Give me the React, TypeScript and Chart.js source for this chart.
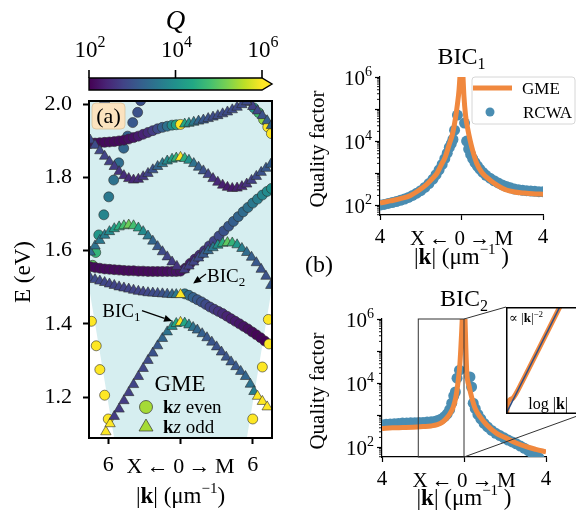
import React, { useEffect, useRef } from "react";
import { Chart, registerables } from "chart.js";

Chart.register(...registerables);

const SERIF = '"Liberation Serif", "Times New Roman", "DejaVu Serif", serif';

/* ---------------- Panel (a) data ----------------
   each entry: [k (µm⁻¹, <0 toward X, >0 toward M), E (eV), log10 Q] */
const evenTopLeft = [
  [-7.5, 1.893, 2.2], [-7.1, 1.894, 2.15], [-6.7, 1.895, 2.1], [-6.3, 1.896, 2.1], [-5.9, 1.897, 2.1],
  [-5.5, 1.898, 2.1], [-5.1, 1.9, 2.1], [-4.7, 1.902, 2.1], [-4.3, 1.905, 2.15], [-3.9, 1.909, 2.2],
  [-3.5, 1.913, 2.3], [-3.1, 1.918, 2.4], [-2.7, 1.923, 2.5], [-2.3, 1.928, 2.7], [-1.9, 1.933, 2.9],
  [-1.5, 1.937, 3.2], [-1.1, 1.94, 3.5], [-0.7, 1.943, 3.9], [-0.35, 1.944, 4.3], [0, 1.945, 7],
];
const evenFlatRising = [
  [-7.5, 1.556, 2.1], [-7.1, 1.554, 2.1], [-6.7, 1.552, 2.1], [-6.3, 1.55, 2.1], [-5.9, 1.549, 2.1],
  [-5.5, 1.548, 2.1], [-5.1, 1.547, 2.1], [-4.7, 1.546, 2.1], [-4.3, 1.545, 2.1], [-3.9, 1.545, 2.1],
  [-3.5, 1.544, 2.1], [-3.1, 1.544, 2.1], [-2.7, 1.543, 2.1], [-2.3, 1.543, 2.1], [-1.9, 1.543, 2.1],
  [-1.5, 1.543, 2.15], [-1.1, 1.543, 2.15], [-0.7, 1.543, 2.2], [-0.35, 1.543, 2.2], [0, 1.544, 2.2],
  [0.4, 1.552, 2.25], [0.8, 1.565, 2.3], [1.2, 1.577, 2.4], [1.6, 1.588, 2.5], [2.0, 1.6, 2.6],
  [2.4, 1.613, 2.7], [2.8, 1.626, 2.8], [3.2, 1.64, 2.9], [3.6, 1.654, 3.0], [4.0, 1.667, 3.1],
  [4.4, 1.68, 3.2], [4.8, 1.693, 3.3], [5.2, 1.706, 3.4], [5.6, 1.718, 3.5], [6.0, 1.73, 3.6],
  [6.4, 1.741, 3.7], [6.8, 1.752, 3.8], [7.2, 1.762, 3.9], [7.55, 1.77, 4.0],
];
const evenBic2Right = [
  [0.35, 1.482, 3.6], [0.7, 1.478, 3.4], [1.05, 1.472, 3.25], [1.4, 1.466, 3.1], [1.75, 1.46, 3.0],
  [2.1, 1.453, 2.9], [2.45, 1.446, 2.8], [2.8, 1.44, 2.7], [3.15, 1.434, 2.6], [3.5, 1.428, 2.5],
  [3.85, 1.421, 2.4], [4.2, 1.414, 2.35], [4.55, 1.407, 2.3], [4.9, 1.4, 2.25], [5.25, 1.393, 2.2],
  [5.6, 1.386, 2.15], [5.95, 1.378, 2.1], [6.3, 1.37, 2.05], [6.65, 1.362, 2.05], [7.0, 1.353, 2.0],
  [7.35, 1.345, 7],
];
const evenUpperLeft = [
  [-6.3, 2.003, 3.1], [-3.31, 2.01, 3.0], [-3.56, 1.978, 3.0], [-3.97, 1.95, 3.1], [-4.39, 1.913, 3.2],
  [-4.72, 1.88, 3.3], [-5.13, 1.84, 3.4], [-5.55, 1.793, 3.5], [-5.96, 1.747, 3.6], [-6.37, 1.698, 3.8],
  [-6.79, 1.643, 4.1], [-7.04, 1.595, 4.6], [-7.3, 1.56, 5.0],
];
const evenTopRight = [
  [6.1, 1.99, 4.0], [6.5, 1.977, 4.7], [6.9, 1.958, 5.3], [7.25, 1.938, 7], [7.55, 1.92, 7],
];
const evenGuided = [
  [-7.4, 1.407, 7], [-7.0, 1.34, 7], [-6.7, 1.275, 7], [-6.3, 1.205, 7], [-6.0, 1.14, 7],
  [7.3, 1.412, 7], [6.8, 1.282, 7], [6.0, 1.14, 7],
];
const oddBic1Band = [
  [-6.2, 1.105, 7], [-5.85, 1.127, 7], [-5.5, 1.147, 2.7], [-5.1, 1.167, 2.7], [-4.7, 1.19, 2.7],
  [-4.3, 1.212, 2.75], [-3.9, 1.234, 2.8], [-3.5, 1.256, 2.8], [-3.1, 1.278, 2.85], [-2.7, 1.3, 2.9],
  [-2.3, 1.32, 3.0], [-1.9, 1.34, 3.1], [-1.5, 1.36, 3.3], [-1.1, 1.378, 3.5], [-0.7, 1.393, 3.9],
  [-0.35, 1.401, 4.4], [0, 1.404, 7], [0.35, 1.402, 4.4], [0.7, 1.397, 3.9], [1.05, 1.39, 3.5],
  [1.4, 1.383, 3.3], [1.8, 1.373, 3.2], [2.2, 1.362, 3.1], [2.6, 1.35, 3.05], [3.0, 1.337, 3.0],
  [3.4, 1.323, 3.0], [3.8, 1.309, 3.05], [4.2, 1.296, 3.1], [4.6, 1.283, 3.1], [5.0, 1.27, 3.2],
  [5.4, 1.256, 3.3], [5.8, 1.235, 3.5], [6.1, 1.215, 3.7], [6.4, 1.202, 7], [6.8, 1.188, 7],
  [7.2, 1.173, 7],
];
const oddBic2Left = [
  [-7.5, 1.525, 2.9], [-7.1, 1.521, 2.9], [-6.7, 1.517, 2.85], [-6.3, 1.513, 2.85], [-5.9, 1.509, 2.8],
  [-5.5, 1.505, 2.8], [-5.1, 1.501, 2.8], [-4.7, 1.498, 2.8], [-4.3, 1.495, 2.8], [-3.9, 1.492, 2.8],
  [-3.5, 1.489, 2.8], [-3.1, 1.487, 2.8], [-2.7, 1.485, 2.85], [-2.3, 1.484, 2.9], [-1.9, 1.483, 2.9],
  [-1.5, 1.482, 3.0], [-1.1, 1.481, 3.1], [-0.7, 1.48, 3.3], [-0.35, 1.48, 3.6], [0, 1.48, 7],
];
const oddHumpBand = [
  [-7.5, 1.596, 3.4], [-7.1, 1.613, 3.5], [-6.7, 1.628, 3.6], [-6.3, 1.642, 3.7], [-5.9, 1.652, 3.9],
  [-5.5, 1.66, 4.2], [-5.1, 1.665, 4.5], [-4.7, 1.668, 4.8], [-4.3, 1.67, 5.1], [-3.9, 1.668, 4.8],
  [-3.5, 1.662, 4.3], [-3.1, 1.652, 3.9], [-2.7, 1.64, 3.6], [-2.3, 1.626, 3.3], [-1.9, 1.611, 3.1],
  [-1.5, 1.597, 2.9], [-1.1, 1.583, 2.8], [-0.7, 1.569, 2.7], [-0.3, 1.557, 2.6],
  [0.3, 1.548, 2.7], [0.7, 1.558, 2.75], [1.1, 1.569, 2.8], [1.5, 1.58, 2.9], [1.9, 1.59, 3.1],
  [2.3, 1.6, 3.3], [2.7, 1.608, 3.6], [3.1, 1.615, 4.0], [3.5, 1.62, 4.5], [3.9, 1.622, 5.0],
  [4.3, 1.621, 4.6], [4.7, 1.616, 4.1], [5.1, 1.606, 3.7], [5.5, 1.595, 3.4], [5.9, 1.582, 3.2],
  [6.3, 1.567, 3.1], [6.7, 1.549, 3.0], [7.1, 1.53, 3.0], [7.5, 1.505, 3.1],
];
const oddWaveBand = [
  [-7.5, 1.902, 2.9], [-7.1, 1.888, 2.9], [-6.7, 1.873, 2.85], [-6.3, 1.858, 2.8], [-5.9, 1.843, 2.75],
  [-5.5, 1.83, 2.7], [-5.1, 1.816, 2.6], [-4.7, 1.805, 2.5], [-4.3, 1.797, 2.45], [-3.9, 1.793, 2.45],
  [-3.5, 1.795, 2.5], [-3.1, 1.802, 2.65], [-2.7, 1.811, 2.8], [-2.3, 1.821, 3.0], [-1.9, 1.83, 3.3],
  [-1.5, 1.838, 3.6], [-1.1, 1.845, 3.9], [-0.7, 1.85, 4.2], [-0.35, 1.853, 4.6], [0, 1.855, 7],
  [0.35, 1.852, 4.5], [0.7, 1.847, 4.0], [1.1, 1.838, 3.5], [1.5, 1.828, 3.2], [1.9, 1.818, 3.0],
  [2.3, 1.808, 2.8], [2.7, 1.797, 2.6], [3.1, 1.787, 2.45], [3.5, 1.779, 2.35], [3.9, 1.773, 2.3],
  [4.3, 1.77, 2.3], [4.7, 1.771, 2.35], [5.1, 1.775, 2.45], [5.5, 1.782, 2.6], [5.9, 1.792, 2.75],
  [6.3, 1.803, 2.9], [6.7, 1.814, 3.0], [7.1, 1.825, 3.1], [7.5, 1.836, 3.2],
];
const oddTopRising = [
  [0.35, 1.946, 4.4], [0.7, 1.948, 4.0], [1.1, 1.951, 3.6], [1.5, 1.954, 3.3], [1.9, 1.957, 3.1],
  [2.3, 1.961, 3.0], [2.7, 1.965, 2.9], [3.1, 1.969, 2.9], [3.5, 1.974, 2.9], [3.9, 1.979, 2.9],
  [4.3, 1.985, 2.9], [4.7, 1.992, 2.9], [5.1, 1.999, 2.9], [5.5, 2.007, 2.9],
];
const oddTopRight = [
  [5.6, 2.005, 2.7], [6.0, 1.994, 2.75], [6.4, 1.982, 2.85], [6.8, 1.969, 3.0], [7.2, 1.955, 3.2],
  [7.55, 1.942, 3.3],
];
const lightLineK = [-7.6, 0, 7.6];
const lightLineE = [1.5, 0, 1.5];

const aKTicks = [-6, 0, 6];
const aKTickLabels = ["6", "", "6"];
const aETicks = [1.2, 1.4, 1.6, 1.8, 2.0];
const qBarTicks = [2, 4, 6];

/* ---------------- Panel (b) data: [k (µm⁻¹), log10 Q] ---------------- */
const bic1Gme = [
  [-4, 2.06], [-3.5, 2.13], [-3, 2.2], [-2.5, 2.3], [-2, 2.5], [-1.7, 2.65], [-1.4, 2.85], [-1.2, 3.0],
  [-1.0, 3.25], [-0.8, 3.5], [-0.6, 3.9], [-0.45, 4.2], [-0.3, 4.7], [-0.2, 5.15], [-0.12, 5.6],
  [-0.06, 6.2], [0, 7.0], [0.06, 6.2], [0.12, 5.4], [0.2, 4.8], [0.3, 4.4], [0.42, 4.03], [0.55, 3.7],
  [0.75, 3.3], [1.0, 3.02], [1.4, 2.78], [1.8, 2.6], [2.2, 2.47], [2.6, 2.41], [3.0, 2.38], [3.5, 2.35],
  [4.0, 2.34],
];
const bic1Rcwa = [
  [-4.0, 2.0], [-3.8, 2.02], [-3.6, 2.05], [-3.4, 2.08], [-3.2, 2.11], [-3.0, 2.15], [-2.8, 2.19],
  [-2.6, 2.24], [-2.4, 2.3], [-2.2, 2.37], [-2.0, 2.45], [-1.8, 2.55], [-1.6, 2.67], [-1.4, 2.81],
  [-1.25, 2.95], [-1.1, 3.1], [-0.95, 3.27], [-0.82, 3.45], [-0.7, 3.62], [-0.6, 3.8], [-0.5, 3.92],
  [-0.42, 4.05], [-0.34, 4.34], [-0.2, 4.81], [0.15, 4.56], [0.25, 4.0], [0.35, 3.75], [0.45, 3.58],
  [0.55, 3.45], [0.66, 3.33], [0.78, 3.22], [0.9, 3.12], [1.05, 3.02], [1.2, 2.93], [1.4, 2.84],
  [1.6, 2.76], [1.8, 2.69], [2.0, 2.63], [2.2, 2.58], [2.4, 2.54], [2.6, 2.5], [2.8, 2.48], [3.0, 2.46],
  [3.2, 2.45], [3.4, 2.44], [3.6, 2.43], [3.8, 2.42], [4.0, 2.42],
];
const bic2Gme = [
  [-4, 2.58], [-3.5, 2.6], [-3, 2.61], [-2.5, 2.62], [-2, 2.64], [-1.6, 2.66], [-1.3, 2.7], [-1.05, 2.78],
  [-0.85, 2.9], [-0.68, 3.05], [-0.52, 3.26], [-0.4, 3.55], [-0.28, 4.09], [-0.2, 4.6], [-0.11, 5.65],
  [-0.05, 6.5], [0, 7.2], [0.05, 6.0], [0.13, 4.4], [0.25, 3.9], [0.37, 3.57], [0.55, 3.2], [0.78, 2.95],
  [1.1, 2.7], [1.59, 2.43], [2.0, 2.3], [2.57, 2.12], [3.0, 2.02], [3.5, 1.93], [4.0, 1.85],
];
const bic2Rcwa = [
  [-4, 2.7], [-3.8, 2.71], [-3.6, 2.72], [-3.4, 2.73], [-3.2, 2.74], [-3.0, 2.75], [-2.8, 2.75],
  [-2.6, 2.76], [-2.4, 2.76], [-2.2, 2.77], [-2.0, 2.77], [-1.8, 2.78], [-1.6, 2.79], [-1.4, 2.81],
  [-1.25, 2.84], [-1.1, 2.88], [-0.95, 2.95], [-0.82, 3.04], [-0.7, 3.17], [-0.6, 3.37], [-0.5, 3.6],
  [-0.42, 3.72], [-0.34, 4.15], [-0.22, 4.4], [0.29, 4.19], [0.37, 3.88], [0.45, 3.37], [0.55, 3.2],
  [0.68, 3.02], [0.82, 2.88], [0.98, 2.74], [1.15, 2.63], [1.35, 2.52], [1.55, 2.43], [1.75, 2.36],
  [1.95, 2.29], [2.15, 2.22], [2.35, 2.16], [2.55, 2.1], [2.75, 2.03], [2.95, 1.96], [3.15, 1.88],
  [3.35, 1.79], [3.5, 1.73], [3.65, 1.67],
];
const bic2ZoomK = [-2.23, 0];
/* inset: [log10 |k|, log10 Q] */
const insetGuide = [[0.1, 2.8], [-2.6, 8.2]];
const insetGme = [
  [0.04, 2.85], [-0.02, 3.3], [-0.1, 3.42], [-0.2, 3.47], [-0.3, 3.62], [-0.5, 4.0], [-0.8, 4.6],
  [-1.2, 5.4], [-1.6, 6.2], [-2.0, 7.0], [-2.6, 8.2],
];
const bKTicks = [-4, 0, 4];
const bKTickLabels = ["4", "", "4"];
const bLogQTicks = [2, 3, 4, 5, 6];
const bLogQLabels = [2, 4, 6];

/* ---------------- styling helpers ---------------- */
const VIRIDIS = ["#440154", "#482475", "#414487", "#355f8d", "#2a788e", "#21918c", "#22a884", "#44bf70", "#7ad151", "#bddf26", "#fde725"];
const ORANGE = "#f0883e";
const BLUE = "#4a8db2";

function hexRgb(h: string) {
  return [parseInt(h.slice(1, 3), 16), parseInt(h.slice(3, 5), 16), parseInt(h.slice(5, 7), 16)];
}
function qColor(lq: number) {
  if (lq >= 6) return VIRIDIS[10];
  const t = Math.max(0, (lq - 2) / 4) * 10;
  const i = Math.min(9, Math.floor(t));
  const f = t - i;
  const a = hexRgb(VIRIDIS[i]);
  const b = hexRgb(VIRIDIS[i + 1]);
  return `rgb(${Math.round(a[0] + (b[0] - a[0]) * f)},${Math.round(a[1] + (b[1] - a[1]) * f)},${Math.round(a[2] + (b[2] - a[2]) * f)})`;
}

type Seg = { t: string; s: number; w?: string; dy?: number };
function fontOf(g: Seg) {
  return `${g.w ?? ""} ${g.s}px ${SERIF}`;
}
function richWidth(ctx: CanvasRenderingContext2D, segs: Seg[]) {
  let w = 0;
  for (const g of segs) {
    ctx.font = fontOf(g);
    w += ctx.measureText(g.t).width;
  }
  return w;
}
function drawRich(ctx: CanvasRenderingContext2D, segs: Seg[], x: number, y: number, align = "center") {
  const w = richWidth(ctx, segs);
  let cx = align === "center" ? x - w / 2 : align === "right" ? x - w : x;
  ctx.textAlign = "left";
  ctx.textBaseline = "alphabetic";
  ctx.fillStyle = "#000";
  for (const g of segs) {
    ctx.font = fontOf(g);
    ctx.fillText(g.t, cx, y + (g.dy ?? 0));
    cx += ctx.measureText(g.t).width;
  }
}
function drawRotated(ctx: CanvasRenderingContext2D, segs: Seg[], x: number, y: number) {
  ctx.save();
  ctx.translate(x, y);
  ctx.rotate(-Math.PI / 2);
  drawRich(ctx, segs, 0, 0, "center");
  ctx.restore();
}
function arrow(ctx: CanvasRenderingContext2D, x1: number, y1: number, x2: number, y2: number) {
  const a = Math.atan2(y2 - y1, x2 - x1);
  const hl = 8, hw = 3.5;
  const c = Math.cos(a), s = Math.sin(a);
  ctx.strokeStyle = "#000";
  ctx.lineWidth = 1.2;
  ctx.beginPath();
  ctx.moveTo(x1, y1);
  ctx.lineTo(x2 - hl * c, y2 - hl * s);
  ctx.stroke();
  ctx.fillStyle = "#000";
  ctx.beginPath();
  ctx.moveTo(x2, y2);
  ctx.lineTo(x2 - hl * c + hw * s, y2 - hl * s - hw * c);
  ctx.lineTo(x2 - hl * c - hw * s, y2 - hl * s + hw * c);
  ctx.closePath();
  ctx.fill();
}
function rrect(ctx: CanvasRenderingContext2D, x: number, y: number, w: number, h: number, r: number) {
  ctx.beginPath();
  ctx.moveTo(x + r, y);
  ctx.lineTo(x + w - r, y);
  ctx.quadraticCurveTo(x + w, y, x + w, y + r);
  ctx.lineTo(x + w, y + h - r);
  ctx.quadraticCurveTo(x + w, y + h, x + w - r, y + h);
  ctx.lineTo(x + r, y + h);
  ctx.quadraticCurveTo(x, y + h, x, y + h - r);
  ctx.lineTo(x, y + r);
  ctx.quadraticCurveTo(x, y, x + r, y);
  ctx.closePath();
}
const kTitle = (sp: string): Seg[] => [
  { t: "|", s: 23 }, { t: "k", s: 23, w: "bold" }, { t: "| (μm", s: 23 }, { t: "−1", s: 15, dy: -10 }, { t: sp + ")", s: 23 },
];
const pathLabel = (s: number): Seg[] => [
  { t: "X", s }, { t: "\u2009", s }, { t: "←", s }, { t: "\u2009", s }, { t: "0", s },
  { t: "\u2009", s }, { t: "→", s }, { t: "\u2009", s }, { t: "M", s },
];

/* annotation anchors in data units of panel (a) */
const bic1Note = { text: [-6.5, 1.419], from: [-3.2, 1.436], to: [-0.7, 1.408] };
const bic2Note = { text: [2.2, 1.515], from: [2.12, 1.536], to: [1.05, 1.51] };

const panelAPlugin = {
  id: "panelA",
  afterDatasetsDraw(chart: any) {
    const { ctx, chartArea: ca, scales } = chart;
    const X = (v: number) => scales.x.getPixelForValue(v);
    const Y = (v: number) => scales.y.getPixelForValue(v);
    ctx.save();
    rrect(ctx, ca.left + 3, ca.top + 2, 33, 26, 4);
    ctx.fillStyle = "#fbe3bf";
    ctx.fill();
    ctx.strokeStyle = "#d9c39c";
    ctx.lineWidth = 0.8;
    ctx.stroke();
    drawRich(ctx, [{ t: "(a)", s: 22 }], ca.left + 19.5, ca.top + 22);
    drawRich(ctx, [{ t: "BIC", s: 19 }, { t: "1", s: 13, dy: 4 }], X(bic1Note.text[0]), Y(bic1Note.text[1]), "left");
    arrow(ctx, X(bic1Note.from[0]), Y(bic1Note.from[1]), X(bic1Note.to[0]), Y(bic1Note.to[1]));
    drawRich(ctx, [{ t: "BIC", s: 19 }, { t: "2", s: 13, dy: 4 }], X(bic2Note.text[0]), Y(bic2Note.text[1]), "left");
    arrow(ctx, X(bic2Note.from[0]), Y(bic2Note.from[1]), X(bic2Note.to[0]), Y(bic2Note.to[1]));
    const lx = ca.left + 57, ly = ca.top + 306;
    drawRich(ctx, [{ t: "GME", s: 23 }], ca.left + 91, ly - 16);
    ctx.fillStyle = "#a5db36";
    ctx.strokeStyle = "#333";
    ctx.lineWidth = 0.7;
    ctx.beginPath();
    ctx.arc(lx, ly, 6.5, 0, Math.PI * 2);
    ctx.fill();
    ctx.stroke();
    ctx.beginPath();
    ctx.moveTo(lx, ly + 12);
    ctx.lineTo(lx + 7, ly + 24);
    ctx.lineTo(lx - 7, ly + 24);
    ctx.closePath();
    ctx.fillStyle = "#a5db36";
    ctx.fill();
    ctx.stroke();
    drawRich(ctx, [{ t: "k", s: 19, w: "bold" }, { t: "z", s: 19, w: "italic" }, { t: " even", s: 19 }], lx + 17, ly + 6, "left");
    drawRich(ctx, [{ t: "k", s: 19, w: "bold" }, { t: "z", s: 19, w: "italic" }, { t: " odd", s: 19 }], lx + 17, ly + 26, "left");
    ctx.restore();
  },
  afterDraw(chart: any) {
    const { ctx, chartArea: ca, scales } = chart;
    ctx.save();
    ctx.strokeStyle = "#000";
    ctx.lineWidth = 2;
    ctx.strokeRect(ca.left, ca.top, ca.right - ca.left, ca.bottom - ca.top);
    const cbL = ca.left, cbR = ca.right - 10, tip = ca.right, cbT = 78, cbB = 90;
    const g = ctx.createLinearGradient(cbL, 0, cbR, 0);
    VIRIDIS.forEach((c, i) => g.addColorStop(i / (VIRIDIS.length - 1), c));
    ctx.fillStyle = g;
    ctx.fillRect(cbL, cbT, cbR - cbL, cbB - cbT);
    ctx.fillStyle = VIRIDIS[10];
    ctx.beginPath();
    ctx.moveTo(cbR, cbT);
    ctx.lineTo(tip, (cbT + cbB) / 2);
    ctx.lineTo(cbR, cbB);
    ctx.closePath();
    ctx.fill();
    ctx.beginPath();
    ctx.moveTo(cbL, cbT);
    ctx.lineTo(cbR, cbT);
    ctx.lineTo(tip, (cbT + cbB) / 2);
    ctx.lineTo(cbR, cbB);
    ctx.lineTo(cbL, cbB);
    ctx.closePath();
    ctx.lineWidth = 1.4;
    ctx.stroke();
    for (const v of qBarTicks) {
      const x = cbL + ((v - 2) / 4) * (cbR - cbL);
      ctx.beginPath();
      ctx.moveTo(x, cbT);
      ctx.lineTo(x, cbT - 8);
      ctx.lineWidth = 1.6;
      ctx.stroke();
      drawRich(ctx, [{ t: "10", s: 23 }, { t: String(v), s: 16, dy: -10 }], x + 1, 57);
    }
    drawRich(ctx, [{ t: "Q", s: 27, w: "italic" }], (cbL + cbR) / 2, 29);
    drawRich(ctx, pathLabel(22), scales.x.getPixelForValue(0), ca.bottom + 35);
    drawRotated(ctx, [{ t: "E (eV)", s: 23 }], 30, 272);
    drawRich(ctx, kTitle(""), (ca.left + ca.right) / 2, 503);
    ctx.restore();
  },
};

function qPanelPlugin(p: any) {
  return {
    id: "qpanel" + p.sub,
    afterDatasetsDraw(chart: any) {
      if (!p.zoom) return;
      const { ctx, chartArea: ca, scales } = chart;
      const xl = scales.x.getPixelForValue(bic2ZoomK[0]);
      const xr = scales.x.getPixelForValue(bic2ZoomK[1]);
      ctx.save();
      ctx.strokeStyle = "#333";
      ctx.lineWidth = 1;
      ctx.strokeRect(xl, ca.top, xr - xl, ca.bottom - ca.top);
      ctx.beginPath();
      ctx.moveTo(xr, ca.top);
      ctx.lineTo(p.zoom.tl[0], p.zoom.tl[1]);
      ctx.moveTo(xr, ca.bottom);
      ctx.lineTo(p.zoom.br[0], p.zoom.br[1]);
      ctx.stroke();
      ctx.restore();
    },
    afterDraw(chart: any) {
      const { ctx, chartArea: ca, scales } = chart;
      ctx.save();
      ctx.strokeStyle = "#000";
      ctx.lineWidth = 0.9;
      for (let n = 1; n < 6; n++) {
        for (let m = 2; m <= 9; m++) {
          const v = n + Math.log10(m);
          if (v < scales.y.min || v > scales.y.max) continue;
          const y = scales.y.getPixelForValue(v);
          ctx.beginPath();
          ctx.moveTo(ca.left, y);
          ctx.lineTo(ca.left - 3, y);
          ctx.stroke();
        }
      }
      for (const v of bLogQLabels) {
        const y = scales.y.getPixelForValue(v);
        drawRich(ctx, [{ t: "10", s: 21 }, { t: String(v), s: 14, dy: -9 }], ca.left - 8, y + 8, "right");
      }
      drawRich(ctx, pathLabel(21), scales.x.getPixelForValue(0), ca.bottom + 30);
      drawRich(ctx, [{ t: "BIC", s: 24 }, { t: p.sub, s: 16, dy: 5 }], (ca.left + ca.right) / 2, p.titleY);
      drawRotated(ctx, [{ t: "Quality factor", s: 21 }], 34, (ca.top + ca.bottom) / 2 + 3);
      drawRich(ctx, kTitle(" "), (ca.left + ca.right) / 2, p.kTitleY);
      if (p.legend) {
        rrect(ctx, 182, 77, 103, 47, 3);
        ctx.fillStyle = "rgba(255,255,255,0.85)";
        ctx.fill();
        ctx.strokeStyle = "#d6d6d6";
        ctx.lineWidth = 1;
        ctx.stroke();
        ctx.strokeStyle = ORANGE;
        ctx.lineWidth = 5;
        ctx.beginPath();
        ctx.moveTo(183, 88);
        ctx.lineTo(222, 88);
        ctx.stroke();
        ctx.fillStyle = BLUE;
        ctx.beginPath();
        ctx.arc(200, 112, 4.5, 0, Math.PI * 2);
        ctx.fill();
        drawRich(ctx, [{ t: "GME", s: 17 }], 232, 94, "left");
        drawRich(ctx, [{ t: "RCWA", s: 17 }], 233, 118, "left");
      }
      if (p.panelLabel) drawRich(ctx, [{ t: "(b)", s: 24 }], 29, 272);
      ctx.restore();
    },
  };
}

const insetPlugin = {
  id: "inset",
  beforeDraw(chart: any) {
    const { ctx, width, height } = chart;
    ctx.save();
    ctx.fillStyle = "#fff";
    ctx.fillRect(0, 0, width, height);
    ctx.restore();
  },
  afterDraw(chart: any) {
    const { ctx, width, height } = chart;
    ctx.save();
    ctx.strokeStyle = "#000";
    ctx.lineWidth = 1.5;
    ctx.strokeRect(0.75, 0.75, width - 1.5, height - 1.5);
    drawRich(ctx, [{ t: "∝ |", s: 13 }, { t: "k", s: 13, w: "bold" }, { t: "|", s: 13 }, { t: "−2", s: 9, dy: -5 }], 3, 15, "left");
    drawRich(ctx, [{ t: "log |", s: 16 }, { t: "k", s: 16, w: "bold" }, { t: "|", s: 16 }], 62, 102, "right");
    ctx.restore();
  },
};

function tickFont(size: number) {
  return { family: SERIF, size };
}

function makePanelA(canvas: HTMLCanvasElement) {
  const L = 89, T = 101, R = 272, B = 438, W = 290, H = 517;
  const ds = (band: number[][], style: string, order: number) => ({
    type: "scatter",
    data: band.map((p) => ({ x: p[0], y: p[1] })),
    pointStyle: style,
    pointRadius: style === "circle" ? 5 : 6,
    pointHoverRadius: style === "circle" ? 5 : 6,
    pointBackgroundColor: band.map((p) => qColor(p[2])),
    pointBorderColor: "#2e2e2e",
    pointBorderWidth: 0.6,
    showLine: false,
    clip: 0,
    order,
  });
  const cone = {
    type: "line",
    data: lightLineK.map((k, i) => ({ x: k, y: lightLineE[i] })),
    fill: "end",
    backgroundColor: "rgb(214,238,240)",
    borderColor: "rgba(0,0,0,0)",
    borderWidth: 0,
    pointRadius: 0,
    tension: 0,
    clip: 0,
    order: 20,
  };
  return new Chart(canvas, {
    type: "scatter",
    data: {
      datasets: [
        cone,
        ds(evenTopLeft, "circle", 3),
        ds(evenFlatRising, "circle", 3),
        ds(evenBic2Right, "circle", 3),
        ds(evenUpperLeft, "circle", 3),
        ds(evenTopRight, "circle", 3),
        ds(evenGuided, "circle", 3),
        ds(oddBic1Band, "triangle", 1),
        ds(oddBic2Left, "triangle", 1),
        ds(oddHumpBand, "triangle", 1),
        ds(oddWaveBand, "triangle", 1),
        ds(oddTopRising, "triangle", 1),
        ds(oddTopRight, "triangle", 1),
      ] as any,
    },
    options: {
      responsive: false,
      animation: false,
      devicePixelRatio: 1,
      events: [],
      layout: { padding: { left: 0, top: T, right: W - R, bottom: 0 } },
      plugins: { legend: { display: false }, tooltip: { enabled: false } },
      scales: {
        x: {
          type: "linear",
          min: -7.6,
          max: 7.6,
          afterBuildTicks: (s: any) => { s.ticks = aKTicks.map((v) => ({ value: v })); },
          afterFit: (s: any) => { s.height = H - B; },
          ticks: { callback: (_v: any, i: number) => aKTickLabels[i], font: tickFont(22), color: "#000", padding: 8, maxRotation: 0, minRotation: 0, autoSkip: false },
          grid: { drawOnChartArea: false, tickLength: 6, tickWidth: 2, tickColor: "#000" },
          border: { display: true, color: "#000", width: 2 },
        },
        y: {
          type: "linear",
          min: 1.088,
          max: 2.009,
          afterBuildTicks: (s: any) => { s.ticks = aETicks.map((v) => ({ value: v })); },
          afterFit: (s: any) => { s.width = L; },
          ticks: { callback: (v: any) => Number(v).toFixed(1), font: tickFont(22), color: "#000", padding: 11, autoSkip: false },
          grid: { drawOnChartArea: false, tickLength: 6, tickWidth: 2, tickColor: "#000" },
          border: { display: true, color: "#000", width: 2 },
        },
      },
    } as any,
    plugins: [panelAPlugin as any],
  });
}

function makeQPanel(canvas: HTMLCanvasElement, cfg: any) {
  const { L, T, R, B, W, H } = cfg;
  return new Chart(canvas, {
    type: "scatter",
    data: {
      datasets: [
        {
          type: "line",
          data: cfg.gme.map((p: number[]) => ({ x: p[0], y: p[1] })),
          borderColor: ORANGE,
          borderWidth: 5,
          pointRadius: 0,
          cubicInterpolationMode: "monotone",
          fill: false,
          clip: 0,
          order: 0,
        },
        {
          type: "scatter",
          data: cfg.rcwa.map((p: number[]) => ({ x: p[0], y: p[1] })),
          pointRadius: 5.5,
          pointHoverRadius: 5.5,
          pointBackgroundColor: BLUE,
          pointBorderWidth: 0,
          showLine: false,
          clip: 0,
          order: 1,
        },
      ] as any,
    },
    options: {
      responsive: false,
      animation: false,
      devicePixelRatio: 1,
      events: [],
      layout: { padding: { left: 0, top: T, right: W - R, bottom: 0 } },
      plugins: { legend: { display: false }, tooltip: { enabled: false } },
      scales: {
        x: {
          type: "linear",
          min: -4,
          max: 4,
          afterBuildTicks: (s: any) => { s.ticks = bKTicks.map((v) => ({ value: v })); },
          afterFit: (s: any) => { s.height = H - B; },
          ticks: { callback: (_v: any, i: number) => bKTickLabels[i], font: tickFont(21), color: "#000", padding: 5, maxRotation: 0, minRotation: 0, autoSkip: false },
          grid: { drawOnChartArea: false, tickLength: 5, tickWidth: 1.2, tickColor: "#000" },
          border: { display: true, color: "#000", width: 1.2 },
        },
        y: {
          type: "linear",
          min: 1.69,
          max: 6,
          afterBuildTicks: (s: any) => { s.ticks = bLogQTicks.map((v) => ({ value: v })); },
          afterFit: (s: any) => { s.width = L; },
          ticks: { callback: () => "", font: tickFont(21), autoSkip: false },
          grid: { drawOnChartArea: false, tickLength: 5, tickWidth: 1.2, tickColor: "#000" },
          border: { display: true, color: "#000", width: 1.2 },
        },
      },
    } as any,
    plugins: [qPanelPlugin(cfg.plugin) as any],
  });
}

function makeInset(canvas: HTMLCanvasElement) {
  return new Chart(canvas, {
    type: "scatter",
    data: {
      datasets: [
        {
          type: "line",
          data: insetGuide.map((p) => ({ x: p[0], y: p[1] })),
          borderColor: "#2f4f86",
          borderWidth: 1.5,
          pointRadius: 0,
          fill: false,
          clip: 0,
          order: 0,
        },
        {
          type: "line",
          data: insetGme.map((p) => ({ x: p[0], y: p[1] })),
          borderColor: ORANGE,
          borderWidth: 5,
          pointRadius: 0,
          cubicInterpolationMode: "monotone",
          fill: false,
          clip: 0,
          order: 1,
        },
      ] as any,
    },
    options: {
      responsive: false,
      animation: false,
      devicePixelRatio: 1,
      events: [],
      layout: { padding: 0 },
      plugins: { legend: { display: false }, tooltip: { enabled: false } },
      scales: {
        x: { type: "linear", min: -2.6, max: 0.05, reverse: true, display: false },
        y: { type: "linear", min: 2.9, max: 6.75, display: false },
      },
    } as any,
    plugins: [insetPlugin as any],
  });
}

export default function App() {
  const aRef = useRef<HTMLCanvasElement>(null);
  const bRef = useRef<HTMLCanvasElement>(null);
  const cRef = useRef<HTMLCanvasElement>(null);
  const dRef = useRef<HTMLCanvasElement>(null);

  useEffect(() => {
    const charts = [
      makePanelA(aRef.current!),
      makeQPanel(bRef.current!, {
        L: 90, T: 77, R: 253, B: 215, W: 286, H: 285,
        gme: bic1Gme, rcwa: bic1Rcwa,
        plugin: { sub: "1", titleY: 64, kTitleY: 264, legend: true, panelLabel: true },
      }),
      makeQPanel(cRef.current!, {
        L: 92, T: 39, R: 256, B: 177, W: 286, H: 237,
        gme: bic2Gme, rcwa: bic2Rcwa,
        plugin: { sub: "2", titleY: 26, kTitleY: 225, zoom: { tl: [216, 27], br: [290, 135] } },
      }),
      makeInset(dRef.current!),
    ];
    return () => charts.forEach((c) => c.destroy());
  }, []);

  const abs = (l: number, t: number, w: number, h: number) => ({ position: "absolute" as const, left: l, top: t, width: w, height: h });

  return (
    <div style={{ position: "fixed", left: 0, top: 0, width: 576, height: 517, overflow: "hidden", background: "#fff" }}>
      <canvas ref={aRef} width={290} height={517} style={abs(0, 0, 290, 517)} />
      <canvas ref={bRef} width={286} height={285} style={abs(290, 0, 286, 285)} />
      <canvas ref={cRef} width={286} height={237} style={abs(290, 280, 286, 237)} />
      <canvas ref={dRef} width={74} height={107} style={abs(506, 307, 74, 107)} />
    </div>
  );
}
